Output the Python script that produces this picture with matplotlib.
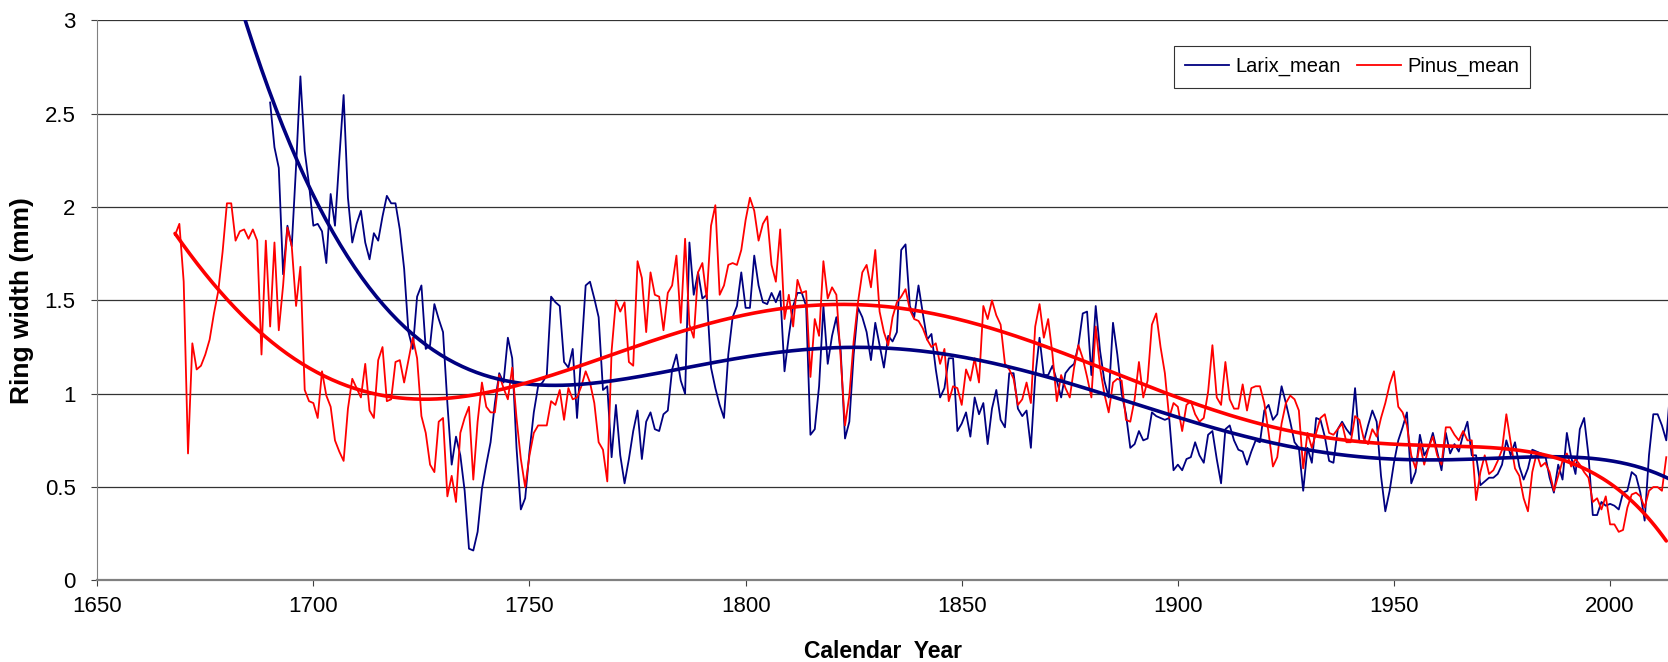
import numpy as np
import matplotlib
matplotlib.use("Agg")
import matplotlib.pyplot as plt
from matplotlib.ticker import FormatStrFormatter

plt.rcParams['font.family'] = ['Liberation Sans', 'DejaVu Sans']

# ring width series (mm), one value per calendar year
larix_start = 1690
larix_mean = [
    2.56, 2.32, 2.21, 1.64, 1.90, 1.79, 2.22, 2.70, 2.30, 2.12,
    1.90, 1.91, 1.87, 1.70, 2.07, 1.90, 2.26, 2.60, 2.05, 1.81,
    1.91, 1.98, 1.81, 1.72, 1.86, 1.82, 1.95, 2.06, 2.02, 2.02,
    1.88, 1.67, 1.33, 1.24, 1.52, 1.58, 1.24, 1.26, 1.48, 1.40,
    1.33, 0.95, 0.62, 0.77, 0.67, 0.48, 0.17, 0.16, 0.26, 0.49,
    0.62, 0.74, 0.95, 1.11, 1.06, 1.30, 1.19, 0.71, 0.38, 0.44,
    0.69, 0.90, 1.04, 1.06, 1.10, 1.52, 1.49, 1.47, 1.17, 1.14,
    1.24, 0.87, 1.22, 1.58, 1.60, 1.51, 1.41, 1.02, 1.04, 0.66,
    0.94, 0.67, 0.52, 0.65, 0.80, 0.91, 0.65, 0.85, 0.90, 0.81,
    0.80, 0.89, 0.91, 1.13, 1.21, 1.07, 1.00, 1.81, 1.53, 1.65,
    1.51, 1.53, 1.14, 1.03, 0.94, 0.87, 1.21, 1.41, 1.47, 1.65,
    1.46, 1.46, 1.74, 1.58, 1.49, 1.48, 1.54, 1.49, 1.55, 1.12,
    1.31, 1.47, 1.54, 1.54, 1.47, 0.78, 0.81, 1.04, 1.47, 1.16,
    1.31, 1.41, 1.23, 0.76, 0.85, 1.21, 1.46, 1.41, 1.33, 1.18,
    1.38, 1.26, 1.14, 1.31, 1.28, 1.33, 1.77, 1.80, 1.47, 1.41,
    1.58, 1.43, 1.29, 1.32, 1.13, 0.98, 1.03, 1.19, 1.19, 0.80,
    0.84, 0.90, 0.77, 0.98, 0.89, 0.95, 0.73, 0.92, 1.02, 0.86,
    0.82, 1.11, 1.11, 0.92, 0.88, 0.91, 0.71, 1.09, 1.30, 1.10,
    1.10, 1.15, 1.07, 0.98, 1.11, 1.14, 1.16, 1.26, 1.43, 1.44,
    1.10, 1.47, 1.23, 1.07, 0.98, 1.38, 1.21, 1.00, 0.89, 0.71,
    0.73, 0.80, 0.75, 0.76, 0.90, 0.88, 0.87, 0.86, 0.87, 0.59,
    0.62, 0.59, 0.65, 0.66, 0.74, 0.67, 0.63, 0.78, 0.80, 0.65,
    0.52, 0.81, 0.83, 0.75, 0.70, 0.69, 0.62, 0.69, 0.75, 0.74,
    0.91, 0.94, 0.86, 0.89, 1.04, 0.95, 0.85, 0.74, 0.71, 0.48,
    0.71, 0.63, 0.87, 0.86, 0.77, 0.64, 0.63, 0.81, 0.85, 0.81,
    0.78, 1.03, 0.74, 0.74, 0.83, 0.91, 0.85, 0.56, 0.37, 0.48,
    0.63, 0.75, 0.82, 0.90, 0.52, 0.58, 0.78, 0.67, 0.71, 0.79,
    0.69, 0.59, 0.79, 0.68, 0.73, 0.69, 0.78, 0.85, 0.67, 0.67,
    0.51, 0.53, 0.55, 0.55, 0.57, 0.62, 0.75, 0.67, 0.74, 0.61,
    0.54, 0.60, 0.70, 0.69, 0.68, 0.67, 0.55, 0.47, 0.62, 0.54,
    0.79, 0.66, 0.57, 0.81, 0.87, 0.67, 0.35, 0.35, 0.42, 0.40,
    0.41, 0.40, 0.38, 0.47, 0.48, 0.58, 0.56, 0.47, 0.32, 0.67,
    0.89, 0.89, 0.83, 0.75, 1.05,
]

pinus_start = 1668
pinus_mean = [
    1.85, 1.91,
    1.60, 0.68, 1.27, 1.13, 1.15, 1.21, 1.29, 1.43, 1.55, 1.76,
    2.02, 2.02, 1.82, 1.87, 1.88, 1.83, 1.88, 1.82, 1.21, 1.82,
    1.36, 1.81, 1.34, 1.58, 1.89, 1.79, 1.47, 1.68, 1.02, 0.96,
    0.95, 0.87, 1.12, 0.99, 0.93, 0.75, 0.69, 0.64, 0.92, 1.08,
    1.03, 0.98, 1.16, 0.91, 0.87, 1.18, 1.25, 0.96, 0.97, 1.17,
    1.18, 1.06, 1.18, 1.30, 1.19, 0.88, 0.79, 0.62, 0.58, 0.85,
    0.87, 0.45, 0.56, 0.42, 0.79, 0.87, 0.93, 0.54, 0.85, 1.06,
    0.93, 0.90, 0.90, 1.10, 1.03, 0.97, 1.14, 0.87, 0.65, 0.50,
    0.67, 0.79, 0.83, 0.83, 0.83, 0.96, 0.94, 1.02, 0.86, 1.03,
    0.97, 0.98, 1.04, 1.12, 1.06, 0.95, 0.74, 0.70, 0.53, 1.23,
    1.50, 1.44, 1.49, 1.17, 1.15, 1.71, 1.62, 1.33, 1.65, 1.53,
    1.52, 1.34, 1.54, 1.58, 1.74, 1.38, 1.83, 1.37, 1.30, 1.65,
    1.70, 1.51, 1.90, 2.01, 1.53, 1.58, 1.69, 1.70, 1.69, 1.77,
    1.93, 2.05, 1.98, 1.82, 1.91, 1.95, 1.69, 1.60, 1.88, 1.40,
    1.53, 1.36, 1.61, 1.54, 1.55, 1.09, 1.40, 1.31, 1.71, 1.51,
    1.57, 1.53, 1.19, 0.83, 0.99, 1.28, 1.49, 1.65, 1.69, 1.57,
    1.77, 1.44, 1.33, 1.26, 1.41, 1.49, 1.52, 1.56, 1.45, 1.40,
    1.39, 1.35, 1.29, 1.25, 1.27, 1.16, 1.24, 0.96, 1.04, 1.03,
    0.94, 1.13, 1.07, 1.19, 1.06, 1.47, 1.40, 1.50, 1.42, 1.37,
    1.16, 1.13, 1.08, 0.94, 0.97, 1.06, 0.95, 1.36, 1.48, 1.30,
    1.40, 1.21, 0.96, 1.10, 1.03, 0.98, 1.14, 1.26, 1.19, 1.09,
    0.98, 1.36, 1.14, 1.00, 0.90, 1.06, 1.08, 1.07, 0.86, 0.85,
    0.97, 1.17, 0.98, 1.07, 1.37, 1.43, 1.25, 1.11, 0.87, 0.95,
    0.93, 0.80, 0.94, 0.96, 0.89, 0.85, 0.87, 1.01, 1.26, 0.98,
    0.94, 1.17, 0.97, 0.92, 0.92, 1.05, 0.91, 1.03, 1.04, 1.04,
    0.95, 0.79, 0.61, 0.66, 0.84, 0.95, 0.99, 0.97, 0.91, 0.60,
    0.79, 0.71, 0.79, 0.87, 0.89, 0.79, 0.78, 0.81, 0.84, 0.74,
    0.74, 0.88, 0.86, 0.76, 0.73, 0.81, 0.77, 0.87, 0.95, 1.05,
    1.12, 0.93, 0.90, 0.83, 0.67, 0.60, 0.73, 0.62, 0.71, 0.77,
    0.67, 0.62, 0.82, 0.82, 0.78, 0.75, 0.80, 0.75, 0.75, 0.43,
    0.58, 0.67, 0.57, 0.59, 0.64, 0.70, 0.89, 0.74, 0.60, 0.56,
    0.44, 0.37, 0.58, 0.68, 0.61, 0.63, 0.58, 0.48, 0.56, 0.64,
    0.68, 0.61, 0.65, 0.62, 0.58, 0.55, 0.42, 0.44, 0.38, 0.45,
    0.30, 0.30, 0.26, 0.27, 0.39, 0.46, 0.47, 0.45, 0.39, 0.48,
    0.50, 0.50, 0.48, 0.66,
]

larix_years = np.arange(larix_start, larix_start + len(larix_mean))
pinus_years = np.arange(pinus_start, pinus_start + len(pinus_mean))

# 6th order polynomial trend lines (as the spreadsheet did), blue one forecast backwards
def trend(years, values, x0, x1):
    p = np.polynomial.Polynomial.fit(years, values, 6)
    xs = np.linspace(x0, x1, 400)
    return xs, p(xs)

lx, ly = trend(larix_years, larix_mean, larix_start - 7, larix_years[-1])
px, py = trend(pinus_years, pinus_mean, pinus_start, pinus_years[-1])

navy = '#000080'
red = '#ff0000'

fig = plt.figure(figsize=(16.68, 6.62), dpi=100)
ax = fig.add_axes([0.0583, 0.1233, 0.9417, 0.8459])

ax.plot(larix_years, larix_mean, color=navy, lw=1.3, label='Larix_mean')
ax.plot(pinus_years, pinus_mean, color=red, lw=1.3, label='Pinus_mean')
ax.plot(lx, ly, color=navy, lw=2.6, solid_capstyle='round')
ax.plot(px, py, color=red, lw=2.6, solid_capstyle='round')

ax.set_xlim(1650, 2013.4)
ax.set_ylim(0, 3)
ax.set_xticks(np.arange(1650, 2001, 50))
ax.set_yticks(np.arange(0, 3.01, 0.5))
ax.yaxis.set_major_formatter(FormatStrFormatter('%g'))
ax.grid(axis='y', color='#333333', lw=0.9)
ax.set_axisbelow(True)

for s in ['top', 'right']:
    ax.spines[s].set_visible(False)
ax.spines['left'].set_color('#808080')
ax.spines['bottom'].set_color('#808080')
ax.spines['bottom'].set_linewidth(1.6)
ax.tick_params(axis='both', colors='#404040', labelcolor='black', labelsize=16,
               direction='out', length=4.5)
ax.tick_params(axis='y', pad=11)
ax.tick_params(axis='x', pad=7)

ax.set_xlabel('Calendar  Year', fontsize=16.5, fontweight='bold', labelpad=16)
ax.set_ylabel('Ring width (mm)', fontsize=19, fontweight='bold', labelpad=8)

leg = ax.legend(loc='upper left', bbox_to_anchor=(0.6855, 0.954), ncol=2,
                fontsize=14.5, frameon=True, fancybox=False, borderpad=0.55,
                handlelength=2.2, handletextpad=0.3, columnspacing=0.8,
                borderaxespad=0)
leg.get_frame().set_edgecolor('black')
leg.get_frame().set_linewidth(0.8)

plt.savefig('out.png', dpi=100)
